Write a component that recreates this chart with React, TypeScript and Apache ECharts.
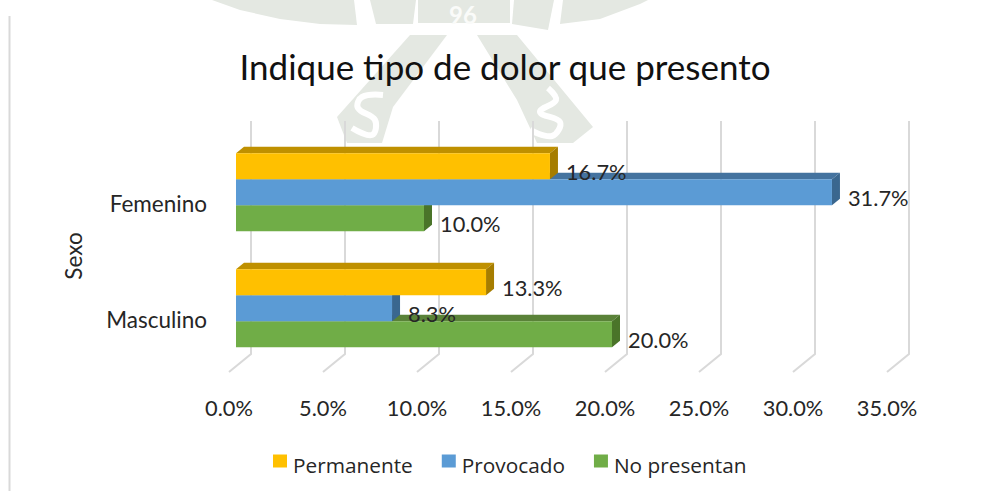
import React, { useEffect, useRef } from "react";
import * as echarts from "echarts";

const titleText = "Indique tipo de dolor que presento";
const categories = ["Femenino", "Masculino"];
const permanente = [16.7, 13.3];
const provocado = [31.7, 8.3];
const noPresentan = [10.0, 20.0];
const ticks = [0, 5, 10, 15, 20, 25, 30, 35];
const WM = "#e4e8e2";

const percent = (v: number) => v.toFixed(1) + "%";

function barSeries(name: string, values: number[], slot: number, front: string, top: string, side: string, z: number) {
  return {
    type: "custom",
    name,
    z,
    clip: false,
    silent: true,
    itemStyle: { color: front },
    encode: { x: 0, y: 1 },
    data: values.map((v, i) => [v, i]),
    renderItem: (_: any, api: any) => {
      const v = api.value(0);
      const i = api.value(1);
      const end = api.coord([v, i]);
      const start = api.coord([0, i]);
      const band = api.size([0, 1])[1];
      const h = band * 0.224;
      const dx = 8;
      const dy = 6.5;
      const ox = 7;
      const oy = -5.7;
      const x0 = start[0] + ox;
      const x1 = end[0] + ox;
      const y0 = end[1] + oy + (slot - 0.5) * h;
      const y1 = y0 + h;
      return {
        type: "group",
        children: [
          { type: "polygon", shape: { points: [[x0, y0], [x1, y0], [x1 + dx, y0 - dy], [x0 + dx, y0 - dy]] }, style: { fill: top } },
          { type: "polygon", shape: { points: [[x1, y0], [x1 + dx, y0 - dy], [x1 + dx, y1 - dy], [x1, y1]] }, style: { fill: side } },
          { type: "rect", shape: { x: x0, y: y0, width: x1 - x0, height: h }, style: { fill: front } },
          {
            type: "text",
            z2: 100,
            style: {
              x: x1 + 16,
              y: y0 + h / 2 + 5.5,
              text: percent(v),
              fill: "#262626",
              font: "21.8px Lato",
              verticalAlign: "middle",
              align: "left",
            },
          },
        ],
      };
    },
  };
}

const gridSeries = {
  type: "custom",
  silent: true,
  z: 1,
  clip: false,
  encode: { x: 0 },
  data: ticks.map((t) => [t]),
  renderItem: (params: any, api: any) => {
    const x = api.coord([api.value(0), 0])[0];
    const sys = params.coordSys;
    const floor = sys.y + sys.height;
    return {
      type: "polyline",
      shape: { points: [[x, floor], [x + 22, floor - 18], [x + 22, floor - 251]] },
      style: { stroke: "#d9d9d9", lineWidth: 2, fill: "none" },
    };
  },
};

function watermark() {
  const polys: number[][][] = [
    [[212, 0], [240, 10], [280, 19], [320, 24], [357, 25], [354, 0]],
    [[370, 0], [376, 24], [413, 24], [416, 0]],
    [[418, 0], [418, 23], [510, 23], [510, 0]],
    [[514, 0], [512, 24], [548, 30], [554, 0]],
    [[563, 0], [560, 24], [600, 19], [640, 4], [648, 0]],
    [[410, 35], [447, 35], [393, 107], [382, 143], [347, 143], [337, 117]],
    [[477, 35], [517, 35], [593, 127], [573, 143], [537, 143], [517, 100]],
  ];
  const shapes: any[] = polys.map((points) => ({
    type: "polygon",
    shape: { points },
    style: { fill: WM },
    silent: true,
  }));
  const strokes: number[][][] = [
    [[383, 95], [362, 97], [358, 108], [375, 120], [372, 135], [352, 128]],
    [[548, 88], [556, 100], [540, 112], [560, 122], [552, 136], [530, 130]],
  ];
  strokes.forEach((points) =>
    shapes.push({
      type: "polyline",
      shape: { points, smooth: 0.4 },
      style: { stroke: "#ffffff", lineWidth: 6, fill: "none" },
      silent: true,
    })
  );
  shapes.push({
    type: "text",
    silent: true,
    style: { x: 463, y: 14, text: "96", fill: "#fafbf9", font: "bold 24px Lato", align: "center", verticalAlign: "middle" },
  });
  shapes.push({
    type: "line",
    shape: { x1: 9.5, y1: 16, x2: 9.5, y2: 491 },
    style: { stroke: "#d9d9d9", lineWidth: 2 },
    silent: true,
  });
  return shapes;
}

export default function App() {
  const ref = useRef<HTMLDivElement>(null);
  useEffect(() => {
    document.body.style.margin = "0";
    const chart = echarts.init(ref.current!, undefined, { renderer: "svg" });
    chart.setOption({
      animation: false,
      backgroundColor: "#ffffff",
      title: {
        text: titleText,
        left: 500,
        top: 43,
        textAlign: "center",
        textStyle: { fontFamily: "Lato", fontSize: 35, fontWeight: "normal", color: "#111111" },
      },
      legend: {
        left: 273,
        top: 454.5,
        padding: 0,
        icon: "rect",
        itemWidth: 14,
        itemHeight: 13,
        itemGap: 29,
        data: ["Permanente", "Provocado", "No presentan"],
        formatter: (name: string) => "{a|" + name + "}",
        textStyle: {
          rich: {
            a: { fontFamily: "Open Sans", fontSize: 20.8, color: "#262626", padding: [8, 0, 0, 1] },
          },
        },
      },
      grid: { left: 229, width: 658, top: 140, height: 232 },
      xAxis: {
        type: "value",
        min: 0,
        max: 35,
        interval: 5,
        axisLine: { show: false },
        axisTick: { show: false },
        splitLine: { show: false },
        axisLabel: { formatter: percent, fontFamily: "Lato", fontSize: 21.8, color: "#262626", margin: 24 },
      },
      yAxis: {
        type: "category",
        inverse: true,
        data: categories,
        axisLine: { show: false },
        axisTick: { show: false },
        name: "Sexo",
        nameLocation: "middle",
        nameGap: 144,
        nameRotate: 90,
        nameTextStyle: { fontFamily: "Lato", fontSize: 22.5, color: "#262626" },
        axisLabel: { fontFamily: "Lato", fontSize: 22.5, color: "#262626", margin: 22, verticalAlign: "top", lineHeight: 10 },
      },
      graphic: watermark(),
      series: [
        gridSeries,
        barSeries("No presentan", noPresentan, 1, "#70AD47", "#5A8238", "#4A7429", 2),
        barSeries("Provocado", provocado, 0, "#5B9BD5", "#44739F", "#3A678F", 3),
        barSeries("Permanente", permanente, -1, "#FFC000", "#BF9000", "#A67D00", 4),
      ],
    });
    return () => chart.dispose();
  }, []);
  return <div ref={ref} style={{ width: 984, height: 491 }} />;
}
